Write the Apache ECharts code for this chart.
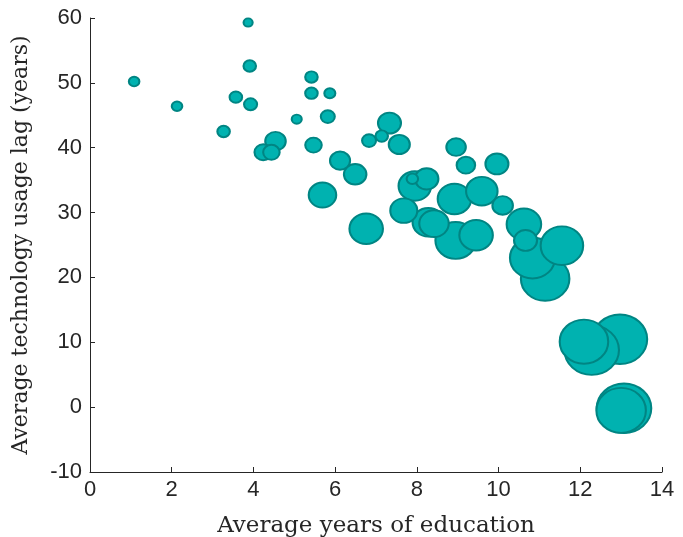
<!DOCTYPE html>
<html>
<head>
<meta charset="utf-8">
<script src="https://cdn.jsdelivr.net/npm/echarts@6/dist/echarts.min.js"></script>
<style>html,body{margin:0;padding:0;background:#fff}#c{width:683px;height:537px}</style>
</head>
<body>
<div id="c"></div>
<script>
// Average years of education
const education = [1.08, 2.13, 3.87, 3.91, 3.57, 3.93, 3.27, 4.54, 4.24, 4.44,
  5.42, 5.42, 5.87, 5.06, 5.82, 5.47, 6.12, 6.49, 5.69, 6.76,
  7.33, 6.83, 7.14, 7.57, 8.96, 9.20, 9.96, 7.95, 8.24, 7.89,
  8.92, 9.59, 10.10, 7.68, 8.28, 8.42, 8.95, 9.45, 10.62, 10.66,
  10.83, 11.14, 11.55, 12.97, 12.28, 12.09, 13.07, 13.00];
// Average technology usage lag (years)
const usageLag = [50.2, 46.4, 59.3, 52.6, 47.8, 46.7, 42.5, 41.0, 39.3, 39.3,
  50.9, 48.4, 48.4, 44.4, 44.8, 40.4, 38.0, 35.9, 32.7, 27.5,
  43.8, 41.1, 41.8, 40.5, 40.1, 37.3, 37.5, 34.1, 35.2, 35.2,
  32.1, 33.3, 31.1, 30.3, 28.5, 28.3, 25.7, 26.5, 28.2, 25.7,
  23.0, 19.8, 24.9, 10.46, 8.8, 10.1, -0.18, -0.5];
// Relative bubble weight (area-like)
const weight = [36, 36, 28, 49, 49, 53, 49, 121, 90, 81,
  49, 49, 39, 33, 60, 81, 116, 144, 210, 306,
  150, 60, 49, 127, 110, 100, 150, 289, 156, 42,
  306, 272, 121, 203, 272, 240, 441, 306, 324, 150,
  541, 625, 484, 784, 784, 625, 784, 650];
const xTicks = [0, 2, 4, 6, 8, 10, 12, 14];
const yTicks = [-10, 0, 10, 20, 30, 40, 50, 60];

const pts = education.map((x, i) => [x, usageLag[i], weight[i]]);
pts.sort((a, b) => b[2] - a[2]);

const axisColor = '#262626';
const chart = echarts.init(document.getElementById('c'));
chart.setOption({
  animation: false,
  grid: {left: 90, right: 21, top: 18, bottom: 65, containLabel: false, outerBoundsMode: 'none'},
  xAxis: {
    type: 'value', min: xTicks[0], max: xTicks[xTicks.length - 1], interval: 2,
    name: 'Average years of education', nameLocation: 'middle', nameGap: 43,
    nameTextStyle: {fontFamily: 'DejaVu Serif', fontSize: 23, color: axisColor},
    axisLine: {onZero: false, lineStyle: {color: axisColor, width: 1}},
    axisTick: {inside: true, length: 5, lineStyle: {color: axisColor}},
    axisLabel: {fontFamily: 'Liberation Sans', fontSize: 22, color: axisColor, margin: 7},
    splitLine: {show: false}
  },
  yAxis: {
    type: 'value', min: yTicks[0], max: yTicks[yTicks.length - 1], interval: 10,
    name: 'Average technology usage lag (years)', nameLocation: 'middle', nameGap: 58,
    nameTextStyle: {fontFamily: 'DejaVu Serif', fontSize: 22, color: axisColor},
    axisLine: {show: true, onZero: false, lineStyle: {color: axisColor, width: 1}},
    axisTick: {show: true, inside: true, length: 5, lineStyle: {color: axisColor}},
    axisLabel: {fontFamily: 'Liberation Sans', fontSize: 22, color: axisColor, margin: 8},
    splitLine: {show: false}
  },
  series: [{
    type: 'scatter',
    data: pts,
    symbol: 'circle',
    symbolSize: function (v) {
      const d = 2 * Math.sqrt(v[2]) - 1.5;
      return [d, d / 1.1];
    },
    itemStyle: {color: '#00b2b0', borderColor: '#008583', borderWidth: 2, opacity: 1}
  }]
});
</script>
</body>
</html>
